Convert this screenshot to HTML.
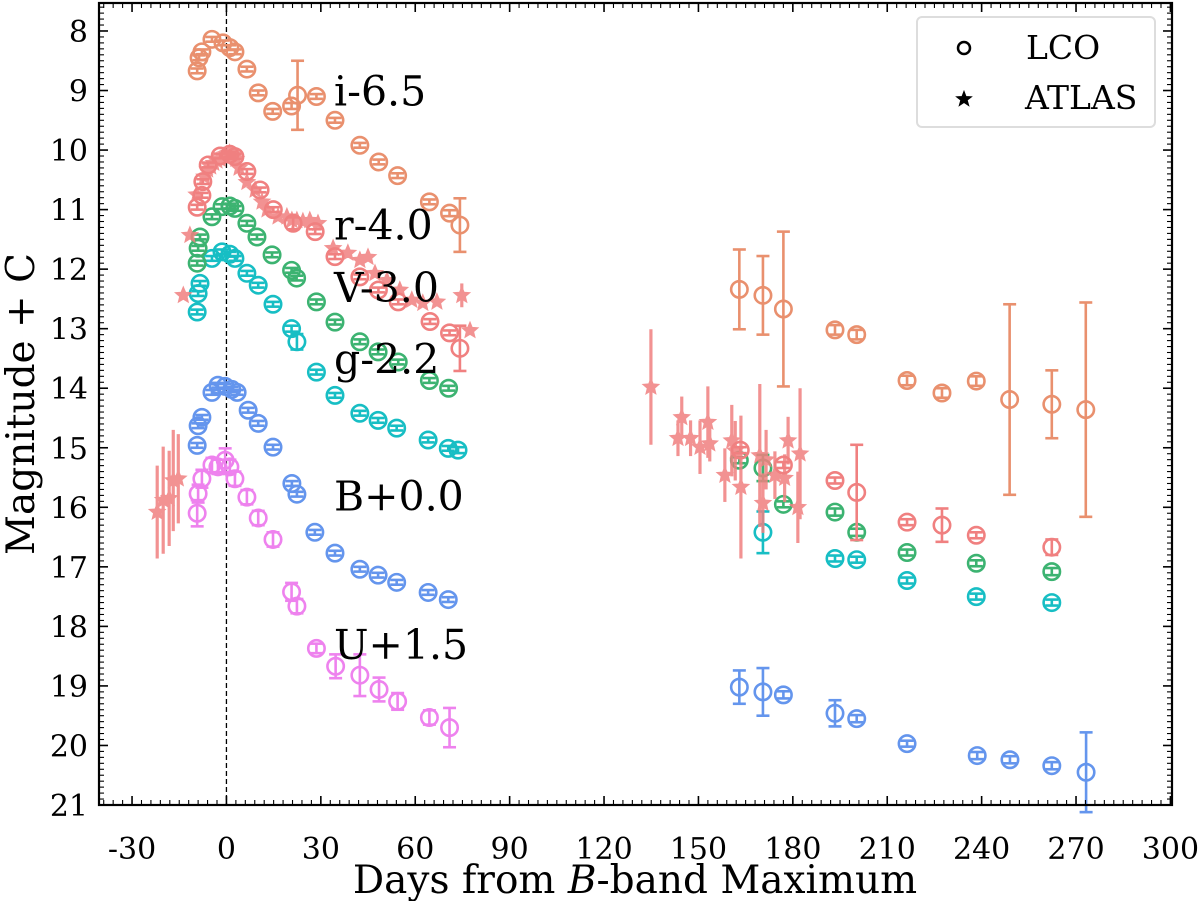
<!DOCTYPE html>
<html><head><meta charset="utf-8"><style>
html,body{margin:0;padding:0;background:#fff;}
svg{display:block;font-family:"DejaVu Serif","Liberation Serif",serif;}
</style></head><body>
<svg id="chart" width="1200" height="901" viewBox="0 0 1200 901" xmlns="http://www.w3.org/2000/svg"></svg>
<script>
// ---- data ----
const iDays=[-9.3,-8.7,-7.8,-4.6,-1.1,1.1,2.7,6.5,10.1,14.7,20.7,22.6,28.6,34.5,42.4,48.4,54.4,64.5,70.9,74.2,163,170.5,177,193.4,200.3,216.3,227.4,238.3,248.9,262.3,273.1];
const iMags=[8.67,8.45,8.35,8.14,8.2,8.28,8.35,8.64,9.04,9.35,9.26,9.08,9.1,9.5,9.92,10.2,10.43,10.87,11.06,11.26,12.34,12.44,12.67,13.02,13.1,13.87,14.08,13.88,14.19,14.27,14.36];
const iErrs=[0.04,0.04,0.04,0.04,0.04,0.04,0.04,0.04,0.04,0.04,0.05,0.58,0.04,0.04,0.04,0.04,0.04,0.04,0.05,0.45,0.67,0.66,1.3,0.08,0.08,0.08,0.08,0.08,1.6,0.57,1.8];

const rDays=[-9.3,-7.8,-7.5,-5.8,-2,1.1,2.7,6.5,10.7,14.9,21.2,28.2,34.5,42.4,48.3,54.6,64.7,70.9,74.2,163.3,177,193.4,200.3,216.3,227.4,238.3,262.3];
const rMags=[10.96,10.76,10.53,10.25,10.1,10.07,10.11,10.36,10.67,11.0,11.23,11.37,11.79,12.13,12.35,12.55,12.88,13.07,13.33,15.04,15.29,15.55,15.75,16.25,16.3,16.47,16.67];
const rErrs=[0.04,0.04,0.04,0.04,0.04,0.04,0.04,0.04,0.04,0.04,0.1,0.04,0.04,0.04,0.04,0.04,0.04,0.04,0.38,0.05,0.05,0.05,0.8,0.05,0.28,0.05,0.13];

const atlasDays=[-22,-20.1,-18.2,-16.9,-15.3,-13.7,-11.6,-9.5,-7,-6,-5,-4,-3,-2,-1,0,1,2,3,4,6.5,9.1,11.3,12.9,16.4,19.2,20.8,22.4,24.3,26.5,29.1,33.9,38.6,42.4,45,47.2,51,55.1,58.9,62.4,66.9,74.8,77.4,134.9,144.7,143.5,147.5,150.5,153,153.6,158.4,160.6,161.7,163.5,169.5,170.5,171.5,174.3,177.4,178.5,182.3,181.6];
const atlasMags=[16.08,15.88,15.85,15.55,15.52,12.44,11.43,10.75,10.45,10.33,10.28,10.22,10.18,10.15,10.1,10.07,10.05,10.08,10.15,10.3,10.54,10.67,10.87,11.0,11.12,11.12,11.18,11.18,11.2,11.18,11.23,11.65,11.73,11.85,11.8,12.07,12.19,12.35,12.52,12.57,12.55,12.44,13.03,13.98,14.49,14.84,14.84,14.99,14.57,14.93,15.46,14.88,15.05,15.66,15.13,15.93,15.2,15.46,15.51,14.88,15.1,16.0];
const atlasErrs=[0.78,0.9,0.8,0.85,0.75,0.05,0.05,0.05,0.05,0.05,0.05,0.05,0.05,0.05,0.05,0.05,0.05,0.05,0.05,0.05,0.05,0.05,0.05,0.05,0.05,0.05,0.05,0.05,0.05,0.05,0.05,0.05,0.05,0.05,0.05,0.05,0.05,0.05,0.05,0.05,0.05,0.2,0.05,0.97,0.35,0.3,0.3,0.45,0.6,0.3,0.45,0.6,0.5,1.2,1.2,0.5,0.5,0.4,0.4,0.4,1.1,0.6];

const vDays=[-9.3,-9,-8.4,-4.6,-1.4,1.1,2.7,6.5,9.7,14.5,20.7,22.3,28.6,34.5,42.4,48.2,54.6,64.5,70.6,163,170.5,177,193.4,200.3,216.3,238.3,262.3];
const vMags=[11.9,11.65,11.46,11.12,10.95,10.94,10.98,11.23,11.46,11.76,12.02,12.15,12.55,12.89,13.22,13.39,13.56,13.87,14.0,15.21,15.34,15.95,16.08,16.42,16.76,16.94,17.08];
const vErrs=[0.04,0.04,0.04,0.04,0.04,0.04,0.04,0.04,0.04,0.04,0.04,0.04,0.04,0.04,0.04,0.04,0.04,0.04,0.04,0.05,0.22,0.05,0.06,0.06,0.05,0.05,0.06];

const gDays=[-9.3,-9,-8.4,-4.6,-1.4,1.1,2.7,6.5,10.1,14.8,20.7,22.4,28.6,34.5,42.4,48.2,54.1,64.1,70.5,73.6,170.5,193.4,200.3,216.3,238.3,262.3];
const gMags=[12.72,12.41,12.24,11.82,11.71,11.75,11.82,12.07,12.27,12.59,13.0,13.22,13.73,14.12,14.42,14.54,14.67,14.87,15.01,15.04,16.42,16.86,16.88,17.23,17.5,17.6];
const gErrs=[0.04,0.04,0.04,0.04,0.04,0.04,0.04,0.04,0.04,0.04,0.05,0.13,0.04,0.04,0.04,0.04,0.04,0.04,0.04,0.05,0.35,0.05,0.05,0.05,0.05,0.05];

const bDays=[-9.3,-9,-7.8,-4.6,-2.7,-0.4,1.7,3.4,6.9,10.1,14.8,20.8,22.4,28.1,34.5,42.4,48.2,54.1,64.1,70.5,163,170.5,177,193.4,200.3,216.3,238.6,249,262.3,273.2];
const bMags=[14.96,14.63,14.49,14.07,13.95,13.97,14.02,14.07,14.37,14.59,14.99,15.6,15.78,16.42,16.77,17.04,17.14,17.26,17.43,17.55,19.02,19.1,19.15,19.46,19.55,19.97,20.17,20.24,20.34,20.45];
const bErrs=[0.04,0.04,0.04,0.04,0.04,0.04,0.04,0.04,0.04,0.04,0.04,0.04,0.04,0.04,0.04,0.04,0.04,0.04,0.04,0.04,0.28,0.4,0.06,0.22,0.06,0.05,0.06,0.06,0.06,0.67];

const uDays=[-9.3,-9,-7.8,-4.6,-2.7,-0.4,1.1,2.7,6.5,10.1,14.8,20.7,22.4,28.6,34.7,42.4,48.5,54.4,64.5,70.9];
const uMags=[16.1,15.77,15.52,15.29,15.32,15.21,15.32,15.52,15.83,16.18,16.54,17.42,17.66,18.37,18.67,18.82,19.06,19.26,19.53,19.7];
const uErrs=[0.22,0.15,0.15,0.12,0.12,0.2,0.12,0.12,0.12,0.12,0.12,0.15,0.12,0.08,0.2,0.35,0.2,0.14,0.12,0.33];

const xTicks=[-30,0,30,60,90,120,150,180,210,240,270,300];
const yTicks=[8,9,10,11,12,13,14,15,16,17,18,19,20,21];
const bandLabels=["i-6.5","r-4.0","V-3.0","g-2.2","B+0.0","U+1.5"];
const bandLabelMags=[9.0,11.25,12.3,13.5,15.8,18.3];

// ---- scales ----
const L=99,R=1172,T=3,B=805,X0=-40.5,X1=300.5,Y0=7.53,Y1=21;
const X=d=>L+(d-X0)*(R-L)/(X1-X0);
const Y=m=>T+(m-Y0)*(B-T)/(Y1-Y0);
const NS="http://www.w3.org/2000/svg";
const svg=document.getElementById('chart');
function mk(tag,attrs,parent){const e=document.createElementNS(NS,tag);for(const k in attrs)e.setAttribute(k,attrs[k]);(parent||svg).appendChild(e);return e;}

const vl=mk('line',{x1:X(0),x2:X(0),y1:T,y2:B,stroke:'#000','stroke-width':1.3,'stroke-dasharray':'5,3'});



function errbar(g,x,y,e,color){
  const y1=Y(y-e),y2=Y(y+e);
  mk('line',{x1:x,x2:x,y1:y1,y2:y2,stroke:color,'stroke-width':2.6},g);
  mk('line',{x1:x-6.5,x2:x+6.5,y1:y1,y2:y1,stroke:color,'stroke-width':2.6},g);
  mk('line',{x1:x-6.5,x2:x+6.5,y1:y2,y2:y2,stroke:color,'stroke-width':2.6},g);
}
function circleSeries(name,days,mags,errs,color){
  const g=mk('g',{});
  
  
  for(let k=0;k<days.length;k++){
    const x=X(days[k]),y=Y(mags[k]);
    errbar(g,x,mags[k],errs[k],color);
    const c=mk('circle',{cx:x,cy:y,r:8.2,fill:'none',stroke:color,'stroke-width':2.6},g);
    
    
  }
}
function starPath(x,y,r){
  let p='';
  for(let k=0;k<10;k++){const a=-Math.PI/2+k*Math.PI/5;const rr=k%2?r*0.45:r;p+=(k?'L':'M')+(x+rr*Math.cos(a)).toFixed(1)+','+(y+rr*Math.sin(a)).toFixed(1);}
  return p+'Z';
}
function starSeries(name,days,mags,errs,color){
  const g=mk('g',{opacity:0.85});
  
  
  for(let k=0;k<days.length;k++){
    const x=X(days[k]),y=Y(mags[k]);
    mk('line',{x1:x,x2:x,y1:Y(mags[k]-errs[k]),y2:Y(mags[k]+errs[k]),stroke:color,'stroke-width':3.2},g);
    const s=mk('path',{d:starPath(x,y,8.5),fill:color,stroke:color,'stroke-width':1},g);
    
    
  }
}
circleSeries('u-band-series',uDays,uMags,uErrs,'#EE82EE');
circleSeries('b-band-series',bDays,bMags,bErrs,'#6495ED');
circleSeries('g-band-series',gDays,gMags,gErrs,'#17BEC4');
circleSeries('v-band-series',vDays,vMags,vErrs,'#3CB371');
starSeries('r-band-atlas-series',atlasDays,atlasMags,atlasErrs,'#F08080');
circleSeries('r-band-series',rDays,rMags,rErrs,'#F08080');
circleSeries('i-band-series',iDays,iMags,iErrs,'#E9906E');

for(let k=0;k<bandLabels.length;k++){
  const t=mk('text',{x:334,y:Y(bandLabelMags[k])+15,'font-size':41,fill:'#000'});
  t.textContent=bandLabels[k];
  
  
}

const ax=mk('g',{});


for(let d=-39;d<=300;d+=3){
  const x=X(d);const major=(d%30===0);const len=major?9:5;
  mk('line',{x1:x,x2:x,y1:B,y2:B-len,stroke:'#000','stroke-width':major?1.6:1.1},ax);
  mk('line',{x1:x,x2:x,y1:T,y2:T+len,stroke:'#000','stroke-width':major?1.6:1.1},ax);
}
for(let j=76;j<=210;j++){
  const m=j/10;const major=(j%10===0);const len=major?9:5;const y=Y(m);
  mk('line',{x1:L,x2:L+len,y1:y,y2:y,stroke:'#000','stroke-width':major?1.6:1.1},ax);
  mk('line',{x1:R,x2:R-len,y1:y,y2:y,stroke:'#000','stroke-width':major?1.6:1.1},ax);
}
mk('rect',{x:L,y:T,width:R-L,height:B-T,fill:'none',stroke:'#000','stroke-width':2.2},ax);
for(const t of xTicks){
  const e=mk('text',{x:X(t),y:859,'font-size':30,'text-anchor':'middle',fill:'#000'});
  e.textContent=t;
  
  
}
for(const t of yTicks){
  const e=mk('text',{x:88,y:Y(t)+11,'font-size':30,'text-anchor':'end',fill:'#000'});
  e.textContent=t;
  
  
}
</script>
<svg style="position:absolute;left:0;top:0" width="1200" height="901" xmlns="http://www.w3.org/2000/svg" font-family="DejaVu Serif, Liberation Serif, serif">
<text x="635" y="893" font-size="39" text-anchor="middle">Days from <tspan font-style="italic">B</tspan>-band Maximum</text>
<text transform="translate(34,404) rotate(-90)" font-size="39" text-anchor="middle">Magnitude + C</text>
<g>
<rect x="917" y="17" width="238" height="110" rx="5" fill="#fff" fill-opacity="0.85" stroke="#ddd" stroke-width="2"/>
<circle cx="964" cy="48" r="6" fill="none" stroke="#000" stroke-width="2.5"/>
<text x="1026" y="59" font-size="33">LCO</text>
<path d="M964,92L965.8,96.8L970.8,97L966.9,100.1L968.3,105L964,102.1L959.7,105L961.1,100.1L957.2,97L962.2,96.8Z" fill="#000" stroke="#000" stroke-width="1.5"/>
<text x="1025" y="109" font-size="33">ATLAS</text>
</g>
</svg>
</body></html>
